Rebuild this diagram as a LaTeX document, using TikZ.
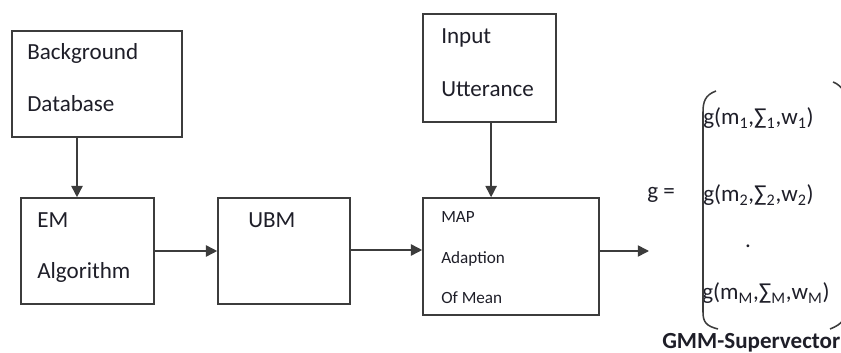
\documentclass[tikz,border=0pt]{standalone}
\usepackage{fontspec}
\setmainfont{Carlito}
\usetikzlibrary{arrows.meta}

\definecolor{edgegray}{RGB}{60,60,60}
\definecolor{txtdark}{RGB}{30,30,40}

\tikzset{
  blk/.style={draw=edgegray, line width=1.1pt, inner sep=0pt, rectangle},
  lbl/.style={anchor=west, inner sep=0pt, text=txtdark, font=\fontsize{16.4}{19}\selectfont},
  small/.style={lbl, font=\fontsize{12.2}{14}\selectfont},
  arr/.style={draw=edgegray, line width=1.1pt, -{Triangle[length=8pt,width=8pt]}},
}

\begin{document}
\begin{tikzpicture}[x=0.025cm, y=-0.025cm]
\useasboundingbox (0,0) rectangle (841,353);

% Blocks
\node[blk, minimum width=4.25cm, minimum height=2.65cm] (bgdb) at (97,84) {};
\node[blk, minimum width=3.325cm, minimum height=2.65cm] (em) at (87.5,251) {};
\node[blk, minimum width=3.3cm, minimum height=2.65cm] (ubm) at (284,251) {};
\node[blk, minimum width=3.325cm, minimum height=2.7cm] (input) at (489.5,68) {};
\node[blk, minimum width=4.4cm, minimum height=2.925cm] (map) at (511,256.5) {};

% Text inside the blocks
\node[lbl] (bgtxt) at (27,53) {Background};
\node[lbl] (dbtxt) at (27,104) {Database};
\node[lbl] (emtxt) at (37,220) {EM};
\node[lbl] (algtxt) at (37,272) {Algorithm};
\node[lbl] (ubmtxt) at (248,220) {UBM};
\node[lbl] (inptxt) at (441,38) {Input};
\node[lbl] (uttxt) at (441,89) {Utterance};
\node[small] (maptxt) at (441,217) {MAP};
\node[small] (adtxt) at (441,259) {Adaption};
\node[small] (meantxt) at (441,298) {Of Mean};

% Arrows
\coordinate (out) at (649,251);
\draw[arr] ([xshift=-0.5cm]bgdb.south) -- ([xshift=-0.5cm]bgdb.south |- em.north);
\draw[arr] (em.east) -- (ubm.west);
\draw[arr] ([yshift=0.025cm]ubm.east) -- ([yshift=0.025cm]ubm.east -| map.west);
\draw[arr] ([xshift=0.04cm]input.south) -- ([xshift=0.04cm]input.south |- map.north);
\draw[arr] (out -| map.east) -- (out);

% Supervector
\node[lbl] (geq) at (647,195) {g =};
\node[lbl] (g1) at (703,118) {g(m\textsubscript{1},∑\textsubscript{1},w\textsubscript{1})};
\node[lbl] (g2) at (703,195) {g(m\textsubscript{2},∑\textsubscript{2},w\textsubscript{2})};
\node[lbl, anchor=base] (gdots) at (748,248) {.};
\node[lbl] (gM) at (702,293) {g(m\textsubscript{M},∑\textsubscript{M},w\textsubscript{M})};

% Brackets round the column
\draw[edgegray, line width=1.1pt] (716,91) .. controls (705,95) and (703,102) .. (703,112)
  -- (703,312) .. controls (703,322) and (706,326) .. (718,329);
\draw[edgegray, line width=1.1pt] (833,82) .. controls (843,86) and (846,94) .. (846,104)
  -- (846,308) .. controls (846,318) and (843,324) .. (830,329);

\node[lbl, font=\fontsize{16.4}{19}\selectfont\bfseries] (gmmtxt) at (662,343) {GMM-Supervector};

\end{tikzpicture}
\end{document}
